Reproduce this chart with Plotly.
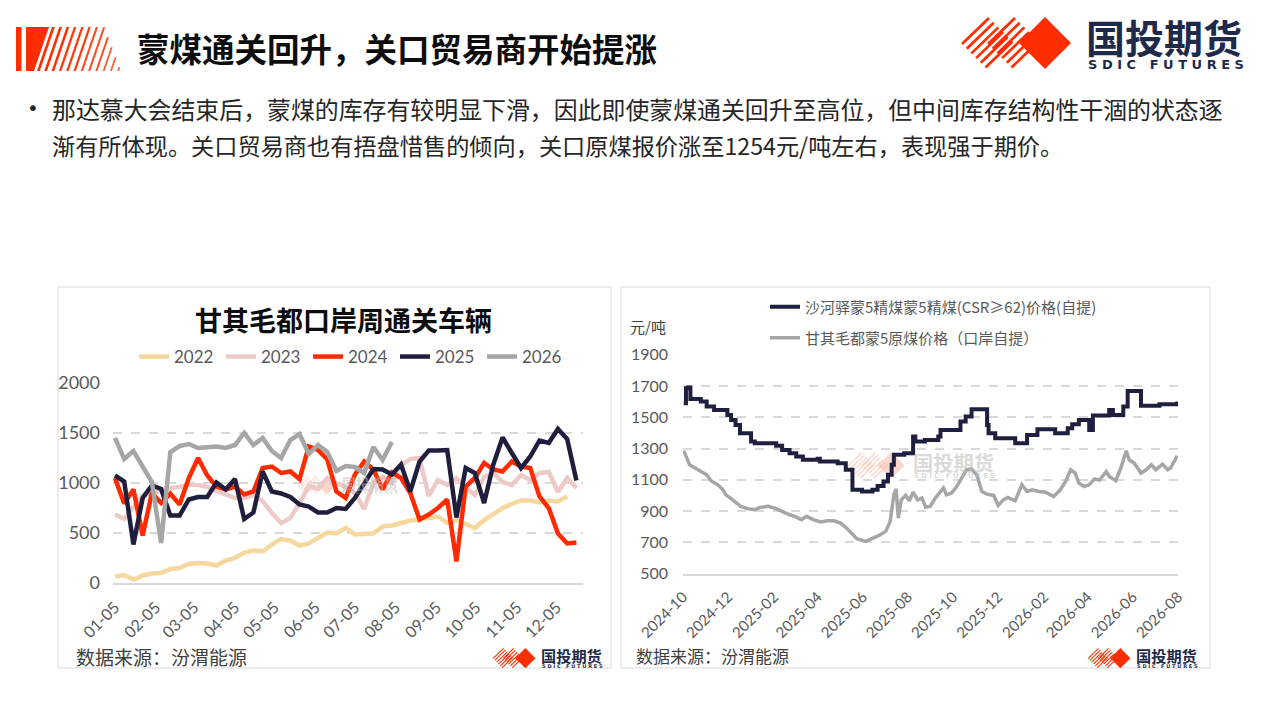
import plotly.graph_objects as go
import pandas as pd

# page is 1280x720; the html body keeps an 8px margin, so the figure is drawn 8px in
PAGE_W, PAGE_H = 1280, 720
OFF = 8
FW, FH = PAGE_W - 2 * OFF, PAGE_H - 2 * OFF

# ---------------- left chart: 甘其毛都口岸周通关车辆 (weekly) ----------------
week_dates = pd.date_range("2000-01-05", periods=51, freq="7D")  # shared MM-DD axis
years = ["2022", "2023", "2024", "2025", "2026"]
y2022 = [65, 80, 35, 75, 95, 100, 140, 150, 190, 200, 195, 175, 225, 250, 305, 325, 315,
         385, 440, 425, 375, 395, 450, 505, 495, 550, 485, 485, 495, 565, 575, 600, 625,
         635, 650, 665, 600, 630, 590, 550, 630, 685, 750, 790, 825, 825, 805, 825, 815, 865]
y2023 = [685, 640, 760, 870, 900, 930, 950, 960, 985, 980, 960, 920, 880, 850, 850, 880, 820,
         700, 600, 650, 800, 970, 940, 1050, 1000, 960, 900, 740, 1000, 1060, 1000, 1180, 1240,
         1250, 870, 1030, 980, 1050, 950, 880, 1060, 1100, 1010, 980, 1080, 1030, 1100, 1110,
         910, 1050, 950]
y2024 = [1050, 795, 935, 475, 900, 800, 895, 785, 1050, 1250, 1075, 965, 935, 965, 885, 915,
         1150, 1165, 1100, 1115, 1040, 1365, 1330, 1235, 915, 850, 1085, 1215, 1135, 935, 1105,
         1050, 900, 635, 685, 750, 835, 215, 965, 1050, 1200, 1135, 1115, 1215, 1165, 1150, 865,
         750, 495, 395, 405]
y2025 = [1075, 1015, 385, 850, 975, 940, 675, 675, 835, 860, 860, 1005, 935, 1040, 640, 705,
         1115, 915, 895, 860, 785, 765, 705, 705, 750, 740, 850, 1005, 1140, 1135, 1085, 1185,
         915, 1215, 1325, 1325, 1330, 655, 1150, 1100, 800, 1185, 1455, 1300, 1150, 1265, 1425,
         1400, 1540, 1440, 1025]
y2026 = [1450, 1240, 1320, 1170, 1010, 400, 1310, 1370, 1390, 1350, 1355, 1365, 1350, 1380,
         1500, 1380, 1450, 1320, 1250, 1430, 1490, 1290, 1380, 1310, 1120, 1170, 1160, 1100,
         1360, 1230, 1410]
year_colors = ["#F6D89E", "#EDCAC8", "#FF2A00", "#1F1F3D", "#A6A6A6"]

# ---------------- right chart: prices (元/吨) ----------------
shahe_name = "沙河驿蒙5精煤蒙5精煤(CSR≥62)价格(自提)"
shahe_dates = ["2024-10-02", "2024-10-05", "2024-10-08", "2024-10-11", "2024-10-25", "2024-11-02",
               "2024-11-12", "2024-11-30", "2024-12-05", "2024-12-11", "2024-12-17", "2025-01-01",
               "2025-01-06", "2025-02-04", "2025-02-12", "2025-02-22", "2025-03-03", "2025-03-12",
               "2025-04-01", "2025-04-04", "2025-04-28", "2025-05-09", "2025-05-18", "2025-05-31",
               "2025-06-14", "2025-06-21", "2025-06-29", "2025-07-05", "2025-07-10", "2025-07-13",
               "2025-07-27", "2025-08-08", "2025-08-11", "2025-08-24", "2025-09-11", "2025-09-14",
               "2025-10-11", "2025-10-18", "2025-10-26", "2025-11-16", "2025-11-18", "2025-11-27",
               "2025-12-24", "2026-01-09", "2026-01-23", "2026-02-16", "2026-03-05", "2026-03-11",
               "2026-03-20", "2026-04-03", "2026-04-08", "2026-04-30", "2026-05-05", "2026-05-19",
               "2026-05-25", "2026-06-12", "2026-07-07", "2026-07-31"]
shahe_price = [1589, 1685, 1690, 1617, 1600, 1568, 1547, 1515, 1483, 1451, 1398, 1345, 1334, 1317,
               1291, 1270, 1249, 1228, 1234, 1217, 1206, 1164, 1036, 1025, 1036, 1060, 1089, 1132,
               1196, 1260, 1270, 1377, 1345, 1355, 1377, 1419, 1472, 1504, 1551, 1451, 1398, 1366,
               1334, 1387, 1423, 1398, 1430, 1455, 1483, 1419, 1511, 1547, 1515, 1568, 1668, 1574,
               1583, 1600]

gqmd_name = "甘其毛都蒙5原煤价格（口岸自提）"
gqmd_dates = ["2024-10-02", "2024-10-05", "2024-10-10", "2024-10-16", "2024-10-25", "2024-11-02",
              "2024-11-08", "2024-11-17", "2024-11-24", "2024-11-28", "2024-12-05", "2024-12-12",
              "2024-12-18", "2024-12-28", "2025-01-06", "2025-01-13", "2025-01-24", "2025-02-02",
              "2025-02-11", "2025-02-20", "2025-03-01", "2025-03-10", "2025-03-17", "2025-03-26",
              "2025-04-05", "2025-04-14", "2025-04-23", "2025-05-02", "2025-05-10", "2025-05-18",
              "2025-05-24", "2025-06-05", "2025-06-14", "2025-06-23", "2025-07-02", "2025-07-08",
              "2025-07-13", "2025-07-16", "2025-07-19", "2025-07-23", "2025-07-29", "2025-08-03",
              "2025-08-08", "2025-08-14", "2025-08-20", "2025-08-25", "2025-08-31", "2025-09-07",
              "2025-09-14", "2025-09-18", "2025-09-22", "2025-09-29", "2025-10-06", "2025-10-12",
              "2025-10-19", "2025-10-26", "2025-11-02", "2025-11-09", "2025-11-16", "2025-11-25",
              "2025-12-01", "2025-12-08", "2025-12-14", "2025-12-24", "2026-01-02", "2026-01-09",
              "2026-01-16", "2026-01-25", "2026-02-03", "2026-02-14", "2026-02-23", "2026-03-02",
              "2026-03-09", "2026-03-15", "2026-03-20", "2026-03-27", "2026-04-03", "2026-04-10",
              "2026-04-17", "2026-04-26", "2026-04-30", "2026-05-09", "2026-05-16", "2026-05-23",
              "2026-05-27", "2026-06-03", "2026-06-12", "2026-06-19", "2026-06-26", "2026-07-02",
              "2026-07-11", "2026-07-18", "2026-07-22", "2026-07-31"]
gqmd_price = [1285, 1249, 1196, 1179, 1153, 1132, 1094, 1068, 1036, 1004, 979, 951, 930, 915, 908,
              923, 930, 919, 898, 881, 866, 845, 866, 845, 830, 838, 838, 823, 791, 753, 723, 706,
              723, 744, 770, 834, 1004, 1042, 855, 972, 1000, 966, 1021, 972, 983, 925, 930, 983,
              1025, 1047, 1004, 1015, 1057, 1111, 1164, 1170, 1132, 1025, 1008, 1000, 936, 972,
              987, 966, 1068, 1025, 1036, 1025, 1021, 993, 1036, 1089, 1164, 1143, 1079, 1057,
              1068, 1106, 1098, 1153, 1121, 1094, 1179, 1285, 1228, 1206, 1143, 1164, 1196, 1164,
              1200, 1164, 1175, 1254]

title_text = "蒙煤通关回升，关口贸易商开始提涨"
bullet_lines = ["那达慕大会结束后，蒙煤的库存有较明显下滑，因此即使蒙煤通关回升至高位，但中间库存结构性干涸的状态逐",
                "渐有所体现。关口贸易商也有捂盘惜售的倾向，关口原煤报价涨至1254元/吨左右，表现强于期价。"]

CJK = "Noto Sans CJK SC"
NUM = "Lato"
GREY_TXT = "#595959"


def px(x):
    return (x - OFF) / FW


def py(y):
    return 1 - (y - OFF) / FH


def poly(pts, color, opacity=1.0, layer="above"):
    d = "M " + " L ".join(f"{px(x):.5f},{py(y):.5f}" for x, y in pts) + " Z"
    return dict(type="path", xref="paper", yref="paper", path=d, fillcolor=color,
                line=dict(width=0), opacity=opacity, layer=layer)


def logo(ox, oy, s, red="#FF2D00", navy="#1F2A4A", op=1.0, layer="above"):
    shp, ann = [], []

    def T(x, y):
        return (ox + x * s, oy + y * s)
    w = 0.95
    for gx in (0, 26):
        for k in range(6):
            bx, by = gx + 4.7 * k, 27 + 4.7 * k
            tx, ty = bx + 27, by - 26
            shp.append(poly([T(bx - w, by - w), T(tx - w, ty - w), T(tx + w, ty + w), T(bx + w, by + w)],
                            red, op, layer))
    shp.append(poly([T(83, 0), T(109, 26), T(83, 52), T(57, 26)], red, op, layer))
    ann.append(dict(x=px(ox + 202 * s), y=py(oy + 19 * s), xref="paper", yref="paper",
                    text="<b>国投期货</b>", showarrow=False, xanchor="center", yanchor="middle",
                    font=dict(family=CJK, size=39 * s, color=navy), opacity=op))
    ann.append(dict(x=px(ox + 204 * s), y=py(oy + 47 * s), xref="paper", yref="paper",
                    text="<b>S D I C   F U T U R E S</b>", showarrow=False, xanchor="center",
                    yanchor="middle", font=dict(family="DejaVu Sans", size=13 * s, color=navy),
                    opacity=op))
    return shp, ann


shapes, annotations = [], []

# header stripe block
shapes.append(poly([(16, 27), (21.5, 27), (21.5, 71), (16, 71)], "#FF2D00"))
shapes.append(poly([(26, 27), (49, 27), (34, 71), (26, 71)], "#FF2D00"))
for k in range(12):
    xb = 37 + 7.3 * k
    wdt = 2.8 - 0.1 * k
    ytop = 27.0
    if xb > 88:
        ytop = (44 * xb - 3008) / 32
    xt = xb + 15 * (71 - ytop) / 44
    col = ["#FF2D00", "#FF3A10", "#FF4A22", "#FF5A35"][min(k // 3, 3)]
    shapes.append(poly([(xb, 71), (xb + wdt, 71), (xt + wdt, ytop), (xt, ytop)], col))

s1, a1 = logo(962, 17, 1.0)
s2, a2 = logo(493, 648, 0.39)
s3, a3 = logo(1088, 648, 0.39)
s4, a4 = logo(297, 476, 0.36, red="#F7B6A6", navy="#BDBDBD", op=0.55, layer="below")
s5, a5 = logo(848, 452, 0.52, red="#F7B6A6", navy="#BDBDBD", op=0.55, layer="below")
for s_, a_ in [(s1, a1), (s2, a2), (s3, a3), (s4, a4), (s5, a5)]:
    shapes += s_
    annotations += a_

# chart frames
for x0, x1 in [(58, 611), (621, 1210)]:
    shapes.append(dict(type="rect", xref="paper", yref="paper", x0=px(x0), x1=px(x1),
                       y0=py(668), y1=py(287), line=dict(color="#D9D9D9", width=1),
                       fillcolor="rgba(0,0,0,0)", layer="below"))

annotations += [
    dict(x=px(135), y=py(47), text="<b>" + title_text + "</b>", xanchor="left", yanchor="middle",
         font=dict(family=CJK, size=32.5, color="#0D0D0D")),
    dict(x=px(25), y=py(108), text="•", xanchor="left", yanchor="middle",
         font=dict(family="DejaVu Sans", size=20, color="#262626")),
    dict(x=px(50), y=py(109), text=bullet_lines[0], xanchor="left", yanchor="middle",
         font=dict(family=CJK, size=23.9, color="#262626")),
    dict(x=px(50), y=py(145), text=bullet_lines[1], xanchor="left", yanchor="middle",
         font=dict(family=CJK, size=23.2, color="#262626")),
    dict(x=px(343), y=py(319), text="<b>甘其毛都口岸周通关车辆</b>", xanchor="center", yanchor="middle",
         font=dict(family=CJK, size=27, color="#0D0D0D")),
    dict(x=px(628), y=py(326), text="元/吨", xanchor="left", yanchor="middle",
         font=dict(family=CJK, size=15, color="#404040")),
    dict(x=px(74), y=py(656), text="数据来源：汾渭能源", xanchor="left", yanchor="middle",
         font=dict(family=CJK, size=19, color="#404040")),
    dict(x=px(634), y=py(655), text="数据来源：汾渭能源", xanchor="left", yanchor="middle",
         font=dict(family=CJK, size=17, color="#404040")),
]
for a in annotations:
    a.setdefault("xref", "paper")
    a.setdefault("yref", "paper")
    a.setdefault("showarrow", False)

fig = go.Figure()
for name, vals, col in zip(years, [y2022, y2023, y2024, y2025, y2026], year_colors):
    fig.add_trace(go.Scatter(x=week_dates[:len(vals)], y=vals, name=name, mode="lines",
                             line=dict(color=col, width=4.5), xaxis="x", yaxis="y",
                             legend="legend"))

fig.add_trace(go.Scatter(x=gqmd_dates, y=gqmd_price, name=gqmd_name, mode="lines",
                         line=dict(color="#A6A6A6", width=3.5), xaxis="x2", yaxis="y2",
                         legend="legend3"))
fig.add_trace(go.Scatter(x=shahe_dates, y=shahe_price, name=shahe_name, mode="lines",
                         line=dict(color="#1F1F3F", width=4, shape="hv"), xaxis="x2", yaxis="y2",
                         legend="legend2"))

axis_common = dict(showgrid=False, zeroline=False, ticks="", tickangle=-45, automargin=False,
                   showline=True, linecolor="#D9D9D9", linewidth=1.5, ticklabelstandoff=7)
yaxis_common = dict(showgrid=True, gridcolor="#D9D9D9", gridwidth=1.5, griddash="dash",
                    zeroline=False, ticks="", showline=False, automargin=False)

fig.update_layout(
    width=FW, height=FH, margin=dict(l=0, r=0, t=0, b=0, autoexpand=False),
    paper_bgcolor="white", plot_bgcolor="rgba(0,0,0,0)",
    xaxis=dict(domain=[px(113), px(583)], anchor="y", type="date",
               range=["2000-01-03 12:00", "2000-12-25"], tick0="2000-01-05", dtick="M1",
               tickformat="%m-%d", tickfont=dict(family=NUM, size=16, color=GREY_TXT),
               **axis_common),
    yaxis=dict(domain=[py(583), py(383)], anchor="x", range=[0, 2000], dtick=500,
               tickfont=dict(family=NUM, size=18, color=GREY_TXT), ticklabelstandoff=12,
               **yaxis_common),
    xaxis2=dict(domain=[px(683), px(1178)], anchor="y2", type="date",
                range=["2024-10-01", "2026-08-01"], tick0="2024-10-01", dtick="M2",
                tickformat="%Y-%m", tickfont=dict(family=NUM, size=15, color=GREY_TXT),
                **axis_common),
    yaxis2=dict(domain=[py(573.6), py(354.7)], anchor="x2", range=[500, 1900], tick0=500,
                dtick=200, tickfont=dict(family=NUM, size=16, color=GREY_TXT),
                ticklabelstandoff=14, **yaxis_common),
    legend=dict(orientation="h", x=px(134), y=py(357), xanchor="left", yanchor="middle",
                entrywidth=42, entrywidthmode="pixels", bgcolor="rgba(0,0,0,0)",
                font=dict(family=NUM, size=17, color=GREY_TXT)),
    legend2=dict(x=px(765), y=py(307), xanchor="left", yanchor="middle",
                 bgcolor="rgba(0,0,0,0)", font=dict(family=CJK, size=15, color=GREY_TXT)),
    legend3=dict(x=px(765), y=py(338), xanchor="left", yanchor="middle",
                 bgcolor="rgba(0,0,0,0)", font=dict(family=CJK, size=15, color=GREY_TXT)),
    shapes=shapes, annotations=annotations,
)

fig.write_html("out.html")
